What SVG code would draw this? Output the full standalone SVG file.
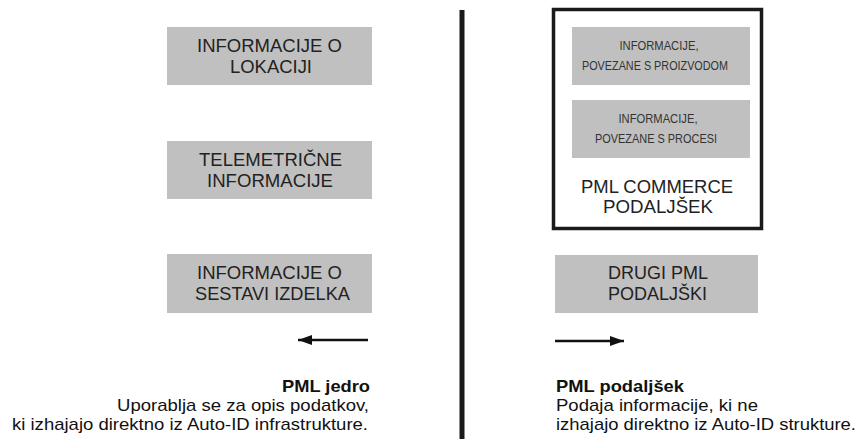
<svg xmlns="http://www.w3.org/2000/svg" width="859" height="439" viewBox="0 0 859 439">
<defs>
<style>
.box{fill:#c0c0c0;}
.t{font-family:"Liberation Sans",Arial,sans-serif;font-size:18px;fill:#222;text-anchor:middle;}
.s{font-family:"Liberation Sans",Arial,sans-serif;font-size:13.5px;fill:#333;text-anchor:middle;}
.c{font-family:"Liberation Sans",Arial,sans-serif;font-size:17px;fill:#111;}
.b{font-weight:bold;}
</style>
<marker id="arr" viewBox="0 0 14 10" refX="14" refY="5" markerWidth="14" markerHeight="10" markerUnits="userSpaceOnUse" orient="auto">
<path d="M0,0 L14,5 L0,10 z" fill="#111"/>
</marker>
</defs>
<rect width="859" height="439" fill="#fff"/>
<g id="connectors">
<line x1="462" y1="10" x2="462" y2="439" stroke="#1a1a1a" stroke-width="5"/>
<line x1="368" y1="340" x2="298" y2="340" stroke="#111" stroke-width="2.5" marker-end="url(#arr)"/>
<line x1="555" y1="341" x2="624" y2="341" stroke="#111" stroke-width="2.5" marker-end="url(#arr)"/>
</g>
<g id="n1"><rect class="box" x="167" y="27" width="205" height="58"/>
<text class="t" x="269.5" y="52" textLength="145" lengthAdjust="spacingAndGlyphs">INFORMACIJE O</text><text class="t" x="271" y="73" textLength="82" lengthAdjust="spacingAndGlyphs">LOKACIJI</text></g>
<g id="n2"><rect class="box" x="167" y="141" width="205" height="58"/>
<text class="t" x="270.5" y="166" textLength="143" lengthAdjust="spacingAndGlyphs">TELEMETRIČNE</text><text class="t" x="270" y="187" textLength="126" lengthAdjust="spacingAndGlyphs">INFORMACIJE</text></g>
<g id="n3"><rect class="box" x="167" y="254" width="205" height="59"/>
<text class="t" x="269.5" y="279" textLength="145" lengthAdjust="spacingAndGlyphs">INFORMACIJE O</text><text class="t" x="272.5" y="300" textLength="155" lengthAdjust="spacingAndGlyphs">SESTAVI IZDELKA</text></g>
<g id="commerce">
<rect x="553.5" y="9.5" width="208" height="219" fill="none" stroke="#1a1a1a" stroke-width="3.5"/>
<text class="t" x="657" y="193" textLength="152" lengthAdjust="spacingAndGlyphs">PML COMMERCE</text><text class="t" x="658" y="213" textLength="110" lengthAdjust="spacingAndGlyphs">PODALJŠEK</text>
</g>
<g id="n4"><rect class="box" x="572" y="27" width="178" height="58"/>
<text class="s" x="659" y="50" textLength="79" lengthAdjust="spacingAndGlyphs">INFORMACIJE,</text>
<text class="s" x="655" y="70" textLength="146" lengthAdjust="spacingAndGlyphs">POVEZANE S PROIZVODOM</text></g>
<g id="n5"><rect class="box" x="572" y="100" width="178" height="58"/>
<text class="s" x="658" y="123" textLength="79" lengthAdjust="spacingAndGlyphs">INFORMACIJE,</text>
<text class="s" x="656" y="143" textLength="122" lengthAdjust="spacingAndGlyphs">POVEZANE S PROCESI</text></g>
<g id="n6"><rect class="box" x="555" y="255" width="203" height="58"/>
<text class="t" x="658" y="279" textLength="100" lengthAdjust="spacingAndGlyphs">DRUGI PML</text><text class="t" x="657.5" y="300" textLength="99" lengthAdjust="spacingAndGlyphs">PODALJŠKI</text></g>
<g id="cap-left">
<text class="c b" x="370" y="392" text-anchor="end" textLength="88" lengthAdjust="spacingAndGlyphs">PML jedro</text>
<text class="c" x="369" y="411" text-anchor="end" textLength="252" lengthAdjust="spacingAndGlyphs">Uporablja se za opis podatkov,</text>
<text class="c" x="368" y="430" text-anchor="end" textLength="356" lengthAdjust="spacingAndGlyphs">ki izhajajo direktno iz Auto-ID infrastrukture.</text>
</g>
<g id="cap-right">
<text class="c b" x="556" y="392" textLength="128" lengthAdjust="spacingAndGlyphs">PML podaljšek</text>
<text class="c" x="556" y="411" textLength="202" lengthAdjust="spacingAndGlyphs">Podaja informacije, ki ne</text>
<text class="c" x="556" y="430" textLength="300" lengthAdjust="spacingAndGlyphs">izhajajo direktno iz Auto-ID strukture.</text>
</g>
</svg>
